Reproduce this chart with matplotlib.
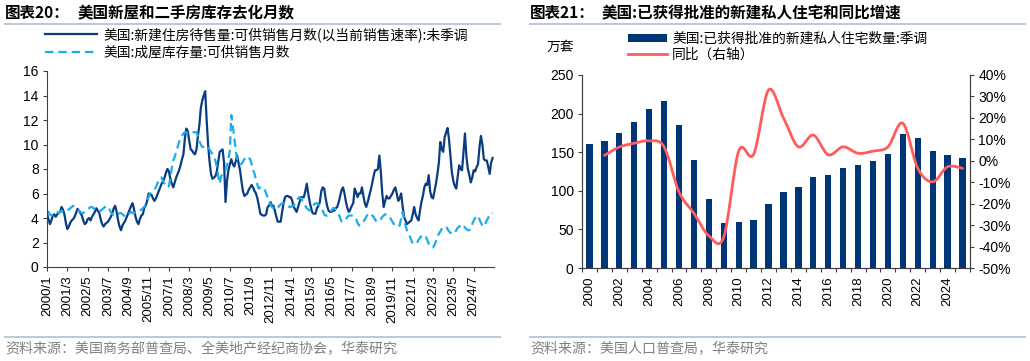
import numpy as np
import matplotlib
matplotlib.use("Agg")
import matplotlib.pyplot as plt
from matplotlib.lines import Line2D
from matplotlib.path import Path
from matplotlib.patches import PathPatch

plt.rcParams['font.family'] = ['Liberation Sans', 'Noto Sans CJK SC', 'DejaVu Sans']
plt.rcParams['axes.unicode_minus'] = False
CJK = ['Noto Sans CJK SC', 'DejaVu Sans']

# ==========================================
# 图表20 数据: 月度, 2000/1 - 2025/8
# ==========================================
new_home_supply = (
    [4.4, 3.9, 3.5, 3.8, 4.2, 4.3, 4.1, 4.3, 4.4, 4.5, 4.9, 4.7] +      # 2000
    [4.3, 3.6, 3.1, 3.3, 3.6, 3.8, 3.9, 4.1, 4.4, 4.75, 4.6, 4.4] +     # 2001
    [4.2, 3.8, 3.5, 3.6, 3.9, 4.0, 3.8, 4.1, 4.3, 4.5, 4.8, 4.6] +      # 2002
    [4.4, 3.9, 3.5, 3.3, 3.5, 3.6, 3.7, 3.9, 4.1, 4.4, 4.8, 5.0] +      # 2003
    [4.5, 3.8, 3.3, 3.0, 3.4, 3.6, 3.8, 4.1, 4.4, 4.7, 5.0, 5.2] +      # 2004
    [4.7, 4.1, 3.7, 3.5, 3.9, 4.2, 4.3, 4.8, 5.0, 5.4, 6.0, 5.9] +      # 2005
    [5.9, 5.6, 5.4, 5.6, 5.9, 6.2, 6.5, 6.8, 7.0, 7.3, 7.7, 8.0] +      # 2006
    [7.8, 7.2, 6.8, 6.5, 6.9, 7.3, 7.6, 7.9, 8.3, 8.8, 9.2, 10.5] +     # 2007
    [11.3, 11.1, 10.3, 9.6, 9.5, 9.3, 9.2, 9.6, 10.7, 11.6, 13.0, 13.6] +   # 2008
    [14.0, 14.35, 12.0, 10.0, 8.6, 7.6, 7.2, 7.3, 7.4, 7.8, 8.6, 9.4] +  # 2009
    [9.5, 9.6, 8.5, 5.3, 7.0, 7.9, 8.4, 8.8, 8.4, 8.2, 8.6, 9.1] +      # 2010
    [8.5, 7.9, 7.0, 6.2, 5.8, 5.9, 6.0, 6.3, 6.5, 6.7, 6.5, 6.2] +      # 2011
    [6.0, 5.6, 5.0, 4.35, 4.25, 4.2, 4.2, 4.3, 4.9, 5.0, 5.3, 5.0] +    # 2012
    [5.0, 4.6, 4.1, 3.7, 3.7, 3.7, 4.5, 5.2, 5.7, 5.8, 5.8, 5.7] +      # 2013
    [5.7, 5.4, 4.9, 4.7, 4.5, 4.9, 5.3, 5.7, 5.7, 5.7, 6.2, 6.8] +      # 2014
    [6.0, 5.3, 4.8, 4.4, 4.35, 4.35, 4.8, 5.0, 5.3, 6.2, 6.5, 6.4] +    # 2015
    [5.6, 5.0, 4.6, 4.5, 4.5, 4.6, 4.6, 4.8, 4.9, 5.3, 5.8, 6.3] +      # 2016
    [6.5, 6.0, 5.3, 4.8, 4.5, 4.7, 5.0, 5.2, 6.4, 6.1, 5.7, 6.0] +      # 2017
    [6.0, 6.5, 5.8, 5.2, 4.9, 5.3, 5.8, 6.25, 6.8, 7.4, 7.9, 7.9] +     # 2018
    [8.0, 9.1, 7.8, 6.0, 4.9, 5.4, 5.8, 5.6, 5.6, 5.8, 6.0, 6.3] +      # 2019
    [6.5, 6.0, 5.4, 5.6, 6.0, 5.0, 4.1, 3.8, 3.5, 3.6, 3.7, 3.8] +      # 2020
    [4.3, 4.9, 4.3, 4.0, 3.8, 4.6, 5.3, 5.8, 6.5, 6.8, 6.7, 7.5] +      # 2021
    [6.2, 5.7, 5.6, 6.2, 6.8, 7.6, 8.5, 10.2, 9.6, 9.4, 10.6, 11.0] +   # 2022
    [11.35, 10.4, 9.0, 7.7, 7.0, 6.6, 6.4, 7.4, 8.3, 8.0, 7.9, 9.4] +   # 2023
    [10.9, 9.0, 8.0, 7.5, 6.9, 7.3, 7.9, 7.8, 8.15, 8.4, 9.8, 10.7] +   # 2024
    [10.0, 8.8, 8.7, 8.7, 8.2, 7.6, 8.5, 8.9]                           # 2025
)

existing_supply = (
    [4.6, 4.5, 4.3, 4.2, 4.3, 4.4, 4.5, 4.5, 4.4, 4.5, 4.6, 4.5] +      # 2000
    [4.5, 4.6, 4.6, 4.7, 4.8, 4.9, 5.0, 4.9, 4.8, 4.7, 4.6, 4.5] +      # 2001
    [4.4, 4.4, 4.5, 4.6, 4.7, 4.8, 4.9, 4.9, 4.8, 4.7, 4.6, 4.5] +      # 2002
    [4.5, 4.6, 4.7, 4.8, 4.9, 5.0, 4.9, 4.7, 4.5, 4.3, 4.2, 4.2] +      # 2003
    [4.3, 4.3, 4.4, 4.4, 4.3, 4.2, 4.1, 4.2, 4.3, 4.4, 4.5, 4.4] +      # 2004
    [4.4, 4.5, 4.5, 4.6, 4.6, 4.7, 4.8, 4.9, 5.1, 5.4, 5.7, 6.0] +      # 2005
    [6.1, 6.2, 6.3, 6.5, 6.8, 7.1, 7.3, 7.3, 7.0, 6.8, 6.6, 6.5] +      # 2006
    [6.6, 7.3, 8.1, 8.7, 9.0, 9.4, 9.8, 10.2, 10.5, 10.7, 10.9, 11.0] + # 2007
    [11.0, 10.9, 10.9, 11.0, 11.0, 11.0, 11.0, 11.0, 10.7, 10.3, 10.0, 9.8] +   # 2008
    [9.8, 9.8, 9.9, 9.8, 9.6, 9.4, 9.2, 9.0, 8.7, 8.2, 7.4, 6.8] +      # 2009
    [7.4, 7.6, 7.8, 7.9, 8.3, 8.8, 9.5, 12.4, 11.5, 10.6, 9.6, 8.7] +   # 2010
    [8.6, 8.4, 8.4, 8.6, 8.8, 9.0, 9.0, 8.9, 8.8, 8.4, 7.9, 7.6] +      # 2011
    [7.1, 6.7, 6.4, 6.5, 6.5, 6.5, 6.3, 6.0, 5.7, 5.4, 5.1, 4.9] +      # 2012
    [4.8, 4.7, 4.7, 4.8, 5.0, 5.1, 5.2, 5.2, 5.1, 5.0, 5.0, 4.9] +      # 2013
    [4.9, 5.0, 5.0, 5.2, 5.4, 5.6, 5.7, 5.6, 5.4, 5.2, 5.0, 4.8] +      # 2014
    [4.7, 4.6, 4.8, 5.0, 5.1, 5.2, 5.2, 5.1, 5.0, 4.8, 4.6, 4.3] +      # 2015
    [4.2, 4.2, 4.3, 4.5, 4.6, 4.8, 4.8, 4.7, 4.5, 4.3, 4.0, 3.7] +      # 2016
    [3.7, 3.8, 3.9, 4.1, 4.2, 4.2, 4.2, 4.2, 4.1, 3.9, 3.6, 3.4] +      # 2017
    [3.4, 3.5, 3.7, 3.9, 4.1, 4.3, 4.4, 4.3, 4.2, 4.1, 3.9, 3.7] +      # 2018
    [3.7, 3.8, 3.9, 4.1, 4.2, 4.3, 4.3, 4.2, 4.1, 3.9, 3.7, 3.5] +      # 2019
    [3.5, 3.4, 3.3, 3.4, 4.0, 4.5, 3.9, 3.4, 3.0, 2.7, 2.5, 2.2] +      # 2020
    [1.9, 1.9, 1.9, 2.0, 2.2, 2.4, 2.5, 2.6, 2.6, 2.5, 2.2, 1.9] +      # 2021
    [1.7, 1.6, 1.6, 1.8, 2.1, 2.5, 2.7, 2.9, 3.1, 3.2, 3.3, 3.3] +      # 2022
    [3.1, 2.9, 2.8, 2.7, 2.7, 2.8, 3.0, 3.2, 3.3, 3.4, 3.5, 3.4] +      # 2023
    [3.2, 3.1, 3.0, 3.0, 3.2, 3.5, 3.8, 4.0, 4.2, 4.1, 3.9, 3.6] +      # 2024
    [3.4, 3.3, 3.5, 3.8, 4.0, 4.3, 4.3, 4.4]                            # 2025
)

left_tick_labels = ['2000/1', '2001/3', '2002/5', '2003/7', '2004/9', '2005/11',
                    '2007/1', '2008/3', '2009/5', '2010/7', '2011/9', '2012/11',
                    '2014/1', '2015/3', '2016/5', '2017/7', '2018/9', '2019/11',
                    '2021/1', '2022/3', '2023/5', '2024/7']
left_tick_step = 14  # 每14个月一个刻度

# ==========================================
# 图表21 数据: 年度
# ==========================================
years = [str(y) for y in range(2000, 2026)]
permits = [160, 165, 175, 189, 206, 216, 185, 140, 90, 58, 60, 62, 83,
           99, 105, 118, 121, 129, 133, 139, 148, 174, 169, 152, 147, 143]
permits_yoy = [2.5, 6.4, 8.2, 9.3, 6.5, -14.5, -24.5, -35.0, -35.5, 4.5, 3.0,
               33.0, 20.0, 6.5, 12.0, 2.8, 6.5, 3.5, 4.5, 6.5, 17.5, -3.5,
               -9.8, -2.8, -3.5]   # 2001 - 2025

NAVY = '#003578'
SOLID = '#0A3C82'
DASH = '#19AEEB'
RED = '#FF5C5C'
SEP = '#B9C9DB'
W, H = 1030, 361


def fx(px):
    return px / W


def fy(py):
    return 1 - py / H


def smooth_path(xs, ys):
    # Excel 风格的平滑曲线 (Catmull-Rom 转 Bezier)
    n = len(xs)
    verts = [(xs[0], ys[0])]
    codes = [Path.MOVETO]
    for i in range(n - 1):
        x0, y0 = xs[max(i - 1, 0)], ys[max(i - 1, 0)]
        x1, y1 = xs[i], ys[i]
        x2, y2 = xs[i + 1], ys[i + 1]
        x3, y3 = xs[min(i + 2, n - 1)], ys[min(i + 2, n - 1)]
        verts += [(x1 + (x2 - x0) / 6, y1 + (y2 - y0) / 6),
                  (x2 - (x3 - x1) / 6, y2 - (y3 - y1) / 6),
                  (x2, y2)]
        codes += [Path.CURVE4] * 3
    return Path(verts, codes)


fig = plt.figure(figsize=(W / 100, H / 100), dpi=100)

# ---------------- 标题 / 分隔线 / 来源 ----------------
for x0, x1, num, title, src in [
        (5, 78, '图表20：', '美国新屋和二手房库存去化月数',
         '资料来源：美国商务部普查局、全美地产经纪商协会，华泰研究'),
        (530, 602, '图表21：', '美国:已获得批准的新建私人住宅和同比增速',
         '资料来源：美国人口普查局，华泰研究')]:
    fig.text(fx(x0), fy(13), num, family=CJK, fontsize=11.2, fontweight='bold',
             va='center', ha='left')
    fig.text(fx(x1), fy(13), title, family=CJK, fontsize=11.2, fontweight='bold',
             va='center', ha='left')
    fig.add_artist(Line2D([fx(x0), fx(x0 + 495)], [fy(24), fy(24)],
                          transform=fig.transFigure, color=SEP, lw=1.4))
    fig.add_artist(Line2D([fx(x0), fx(x0 + 495)], [fy(336.5), fy(336.5)],
                          transform=fig.transFigure, color=SEP, lw=1.4))
    fig.text(fx(x0), fy(349), src, family=CJK, fontsize=10.1, color='#808080',
             va='center', ha='left')

# ---------------- 图表20 ----------------
ax1 = fig.add_axes([fx(47), fy(267), fx(494) - fx(47), fy(71) - fy(267)])
months = np.arange(len(new_home_supply))
l1, = ax1.plot(months, new_home_supply, color=SOLID, lw=1.6,
               label='美国:新建住房待售量:可供销售月数(以当前销售速率):未季调')
l2, = ax1.plot(months, existing_supply, color=DASH, lw=1.6, dashes=(3.8, 2.2),
               label='美国:成屋库存量:可供销售月数')
ax1.set_xlim(0, 308)
ax1.set_ylim(0, 16)
ax1.set_yticks(np.arange(0, 17, 2))
ax1.set_xticks(np.arange(len(left_tick_labels)) * left_tick_step)
ax1.set_xticklabels(left_tick_labels, rotation=90, fontsize=9.5)
ax1.tick_params(axis='y', labelsize=10, length=3, width=0.8, color='#404040', pad=3)
ax1.tick_params(axis='x', length=3, width=0.8, color='#404040', pad=3)
for s in ['top', 'right']:
    ax1.spines[s].set_visible(False)
for s in ['left', 'bottom']:
    ax1.spines[s].set_color('#404040')
    ax1.spines[s].set_linewidth(0.8)

fig.legend(handles=[l1, l2], loc='upper left', bbox_to_anchor=(fx(45), fy(27)),
           frameon=False, borderpad=0, borderaxespad=0, handlelength=3.8,
           handletextpad=0.45, labelspacing=0.25,
           prop=dict(family=CJK, size=9.9))

# ---------------- 图表21 ----------------
ax2 = fig.add_axes([fx(582), fy(268), fx(970) - fx(582), fy(75) - fy(268)])
pos = np.arange(len(years))
bars = ax2.bar(pos, permits, width=0.42, color=NAVY,
               label='美国:已获得批准的新建私人住宅数量:季调')
ax2.set_xlim(-0.5, len(years) - 0.5)
ax2.set_ylim(0, 250)
ax2.set_yticks(np.arange(0, 251, 50))
ax2.set_xticks(pos[::2])
ax2.set_xticklabels(years[::2], rotation=90, fontsize=9.5)
ax2.set_xticks(np.arange(-0.5, len(years), 1), minor=True)
ax2.tick_params(axis='x', which='major', length=0, pad=6)
ax2.tick_params(axis='x', which='minor', length=3, width=0.8, color='#404040')
ax2.tick_params(axis='y', labelsize=10, length=3, width=0.8, color='#404040', pad=3)

ax3 = ax2.twinx()
ax3.set_ylim(-50, 40)
ax3.set_yticks(np.arange(-50, 41, 10))
ax3.set_yticklabels([f'{v}%' for v in range(-50, 41, 10)])
ax3.tick_params(axis='y', labelsize=10, length=3, width=0.8, color='#404040', pad=3)
yoy_path = smooth_path(pos[1:], permits_yoy)
ax3.add_patch(PathPatch(yoy_path, fill=False, edgecolor=RED, lw=2.0,
                        capstyle='round', joinstyle='round'))
yoy_handle = Line2D([], [], color=RED, lw=2.0, label='同比（右轴）')

for a in (ax2, ax3):
    a.spines['top'].set_visible(False)
    for s in ['left', 'right', 'bottom']:
        a.spines[s].set_color('#404040')
        a.spines[s].set_linewidth(0.8)

fig.legend(handles=[bars, yoy_handle], loc='upper left',
           bbox_to_anchor=(fx(628), fy(32)), frameon=False, borderpad=0,
           borderaxespad=0, handlelength=2.8, handleheight=0.45,
           handletextpad=0.4, labelspacing=0.1,
           prop=dict(family=CJK, size=9.9))
fig.text(fx(547), fy(47), '万套', family=CJK, fontsize=9.9, va='center', ha='left')

fig.savefig('out.png', dpi=100)
